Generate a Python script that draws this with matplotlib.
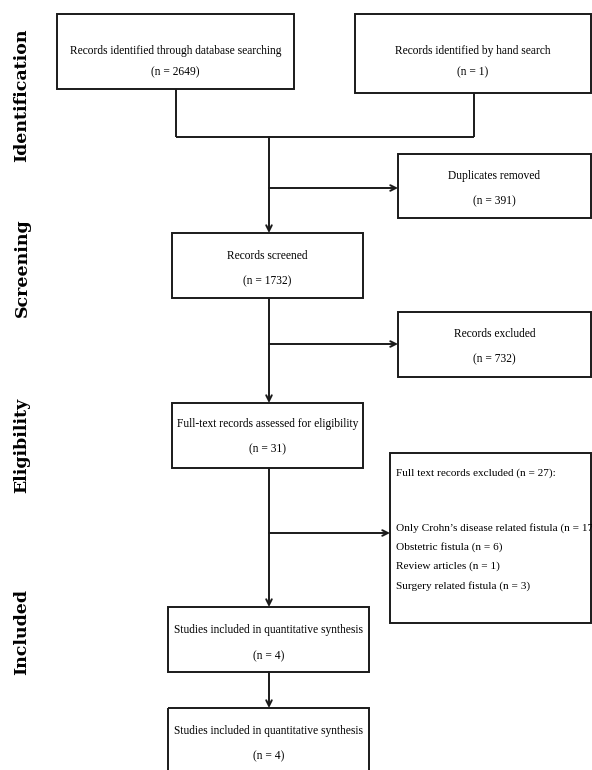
import matplotlib
matplotlib.use("Agg")
import matplotlib.pyplot as plt
from matplotlib.patches import Rectangle

# ---- data (texts / counts) ----
stage_labels = ["Identification", "Screening", "Eligibility", "Included"]
box_titles = [
    "Records identified through database searching",
    "Records identified by hand search",
    "Duplicates removed",
    "Records screened",
    "Records excluded",
    "Full-text records assessed for eligibility",
    "Studies included in quantitative synthesis",
    "Studies included in quantitative synthesis",
]
box_counts = [2649, 1, 391, 1732, 732, 31, 4, 4]
excl_header = "Full text records excluded (n = 27):"
excl_reasons = ["Only Crohn\u2019s disease related fistula", "Obstetric fistula",
                "Review articles", "Surgery related fistula"]
excl_counts = [17, 6, 1, 3]

W, H = 592, 770
fig = plt.figure(figsize=(W / 100, H / 100), dpi=100)
ax = fig.add_axes([0, 0, 1, 1])
ax.set_xlim(0, W)
ax.set_ylim(H, 0)
ax.axis("off")

FONT = "Liberation Serif"
FS = 8.3
LC = "#1a1a1a"
LW = 1.4

# box geometry (x0, y0, x1, y1)
boxes = [
    (57, 14, 294, 89),
    (355, 14, 591, 93),
    (398, 154, 591, 218),
    (172, 233, 363, 298),
    (398, 312, 591, 377),
    (172, 403, 363, 468),
    (168, 607, 369, 672),
    (168, 708, 369, 800),
]
text_y = [(51, 72), (51, 72), (176, 201), (256, 281), (334, 359),
          (424, 449), (630, 656), (731, 756)]

for (x0, y0, x1, y1), title, n, (ty1, ty2) in zip(boxes, box_titles, box_counts, text_y):
    ax.add_patch(Rectangle((x0, y0), x1 - x0, y1 - y0, fill=False,
                           edgecolor=LC, linewidth=LW))
    cx = (x0 + x1) / 2
    ax.text(cx, ty1, title, ha="center", va="center", family=FONT, fontsize=FS)
    ax.text(cx, ty2, f"(n = {n})", ha="center", va="center", family=FONT, fontsize=FS)

# exclusion box
ex0, ey0, ex1, ey1 = 390, 453, 591, 623
ax.add_patch(Rectangle((ex0, ey0), ex1 - ex0, ey1 - ey0, fill=False,
                       edgecolor=LC, linewidth=LW))
ax.text(ex0 + 6, 473, excl_header, ha="left", va="center", family=FONT, fontsize=8.1)
for i, (r, c) in enumerate(zip(excl_reasons, excl_counts)):
    ax.text(ex0 + 6, 528 + i * 19.3, f"{r} (n = {c})", ha="left", va="center",
            family=FONT, fontsize=8.1, clip_on=True)


def line(x0, y0, x1, y1):
    ax.plot([x0, x1], [y0, y1], color=LC, linewidth=LW, solid_capstyle="butt")


def arrow(x0, y0, x1, y1):
    ax.annotate("", xy=(x1, y1), xytext=(x0, y0),
                arrowprops=dict(arrowstyle="->", color=LC, lw=LW,
                                shrinkA=0, shrinkB=0, mutation_scale=10))

MX = 269
line(176, 89, 176, 137)
line(474, 93, 474, 137)
line(176, 137, 474, 137)
arrow(MX, 137, MX, 233)
arrow(MX, 188, 398, 188)
arrow(MX, 298, MX, 403)
arrow(MX, 344, 398, 344)
arrow(MX, 468, MX, 607)
arrow(MX, 533, 390, 533)
arrow(MX, 672, MX, 708)

# stage labels
stage_y = [95, 268, 445, 632]
for lab, y in zip(stage_labels, stage_y):
    ax.text(22, y, lab, rotation=90, ha="center", va="center", family="DejaVu Serif",
            fontsize=12.5, fontweight="bold")

fig.savefig("out.png", dpi=100)
